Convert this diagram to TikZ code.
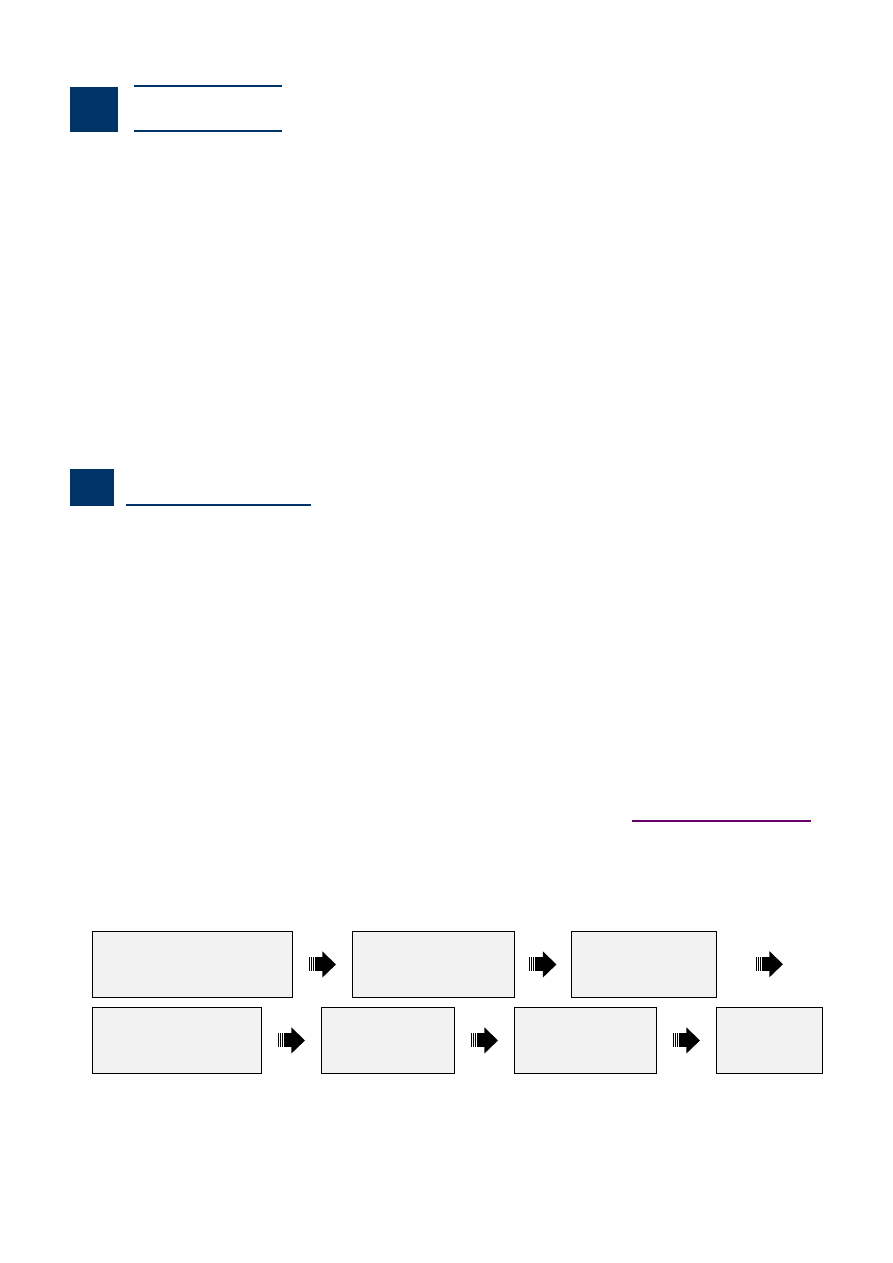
\documentclass[tikz,border=0pt]{standalone}
\usetikzlibrary{calc}
\definecolor{navy}{RGB}{0,51,102}
\definecolor{plum}{RGB}{102,0,102}
\definecolor{boxgray}{RGB}{242,242,242}
\tikzstyle{box} = [rectangle, anchor=north west, inner sep=0pt, minimum height=66pt, draw=black, fill=boxgray, line width=0.9pt]
\tikzstyle{badge} = [rectangle, anchor=north west, inner sep=0pt, fill=navy]
\tikzset{
  pics/steparrow/.style={code={
    \foreach \x in {-13.5,-11.5,-9.5,-7.5}
      \fill[black] (\x,-7) rectangle ++(1,14);
    \fill[black] (-6.5,-7) rectangle (0.5,7);
    \fill[black] (0,-13) -- (13.5,0) -- (0,13) -- cycle;
  }}
}

\begin{document}
\begin{tikzpicture}[x=1pt,y=-1pt]
		\useasboundingbox (0,0) rectangle (893,1263);
		% section headers
		\node[badge,minimum width=48pt,minimum height=45pt] (s1) at (70,87) {};
		\draw[navy,line width=2pt] (134,86) -- (282,86);
		\draw[navy,line width=2pt] (134,131) -- (282,131);
		\node[badge,minimum width=44pt,minimum height=37pt] (s2) at (70,469) {};
		\draw[navy,line width=2pt] (126,505) -- (311,505);
		\draw[plum,line width=1.2pt] (632,821) -- (811,821);
		
		% first row
		\node[box,minimum width=200pt](a1) at (92,931) {};
		\node[box,minimum width=162pt](a2) at (352,931) {};
		\node[box,minimum width=145pt](a3) at (571,931) {};
		\coordinate (a4) at (822,964);
		% second row
		\node[box,minimum width=169pt](b1) at (92,1007) {};
		\node[box,minimum width=133pt](b2) at (321,1007) {};
		\node[box,minimum width=142pt](b3) at (514,1007) {};
		\node[box,minimum width=106pt](b4) at (716,1007) {};
		
		\pic at ($(a1.east)!0.5!(a2.west)$) {steparrow};
		\pic at ($(a2.east)!0.5!(a3.west)$) {steparrow};
		\pic at ($(a3.east)!0.5!(a4)$) {steparrow};
		\pic at ($(b1.east)!0.5!(b2.west)$) {steparrow};
		\pic at ($(b2.east)!0.5!(b3.west)$) {steparrow};
		\pic at ($(b3.east)!0.5!(b4.west)$) {steparrow};
		\end{tikzpicture}
\end{document}
